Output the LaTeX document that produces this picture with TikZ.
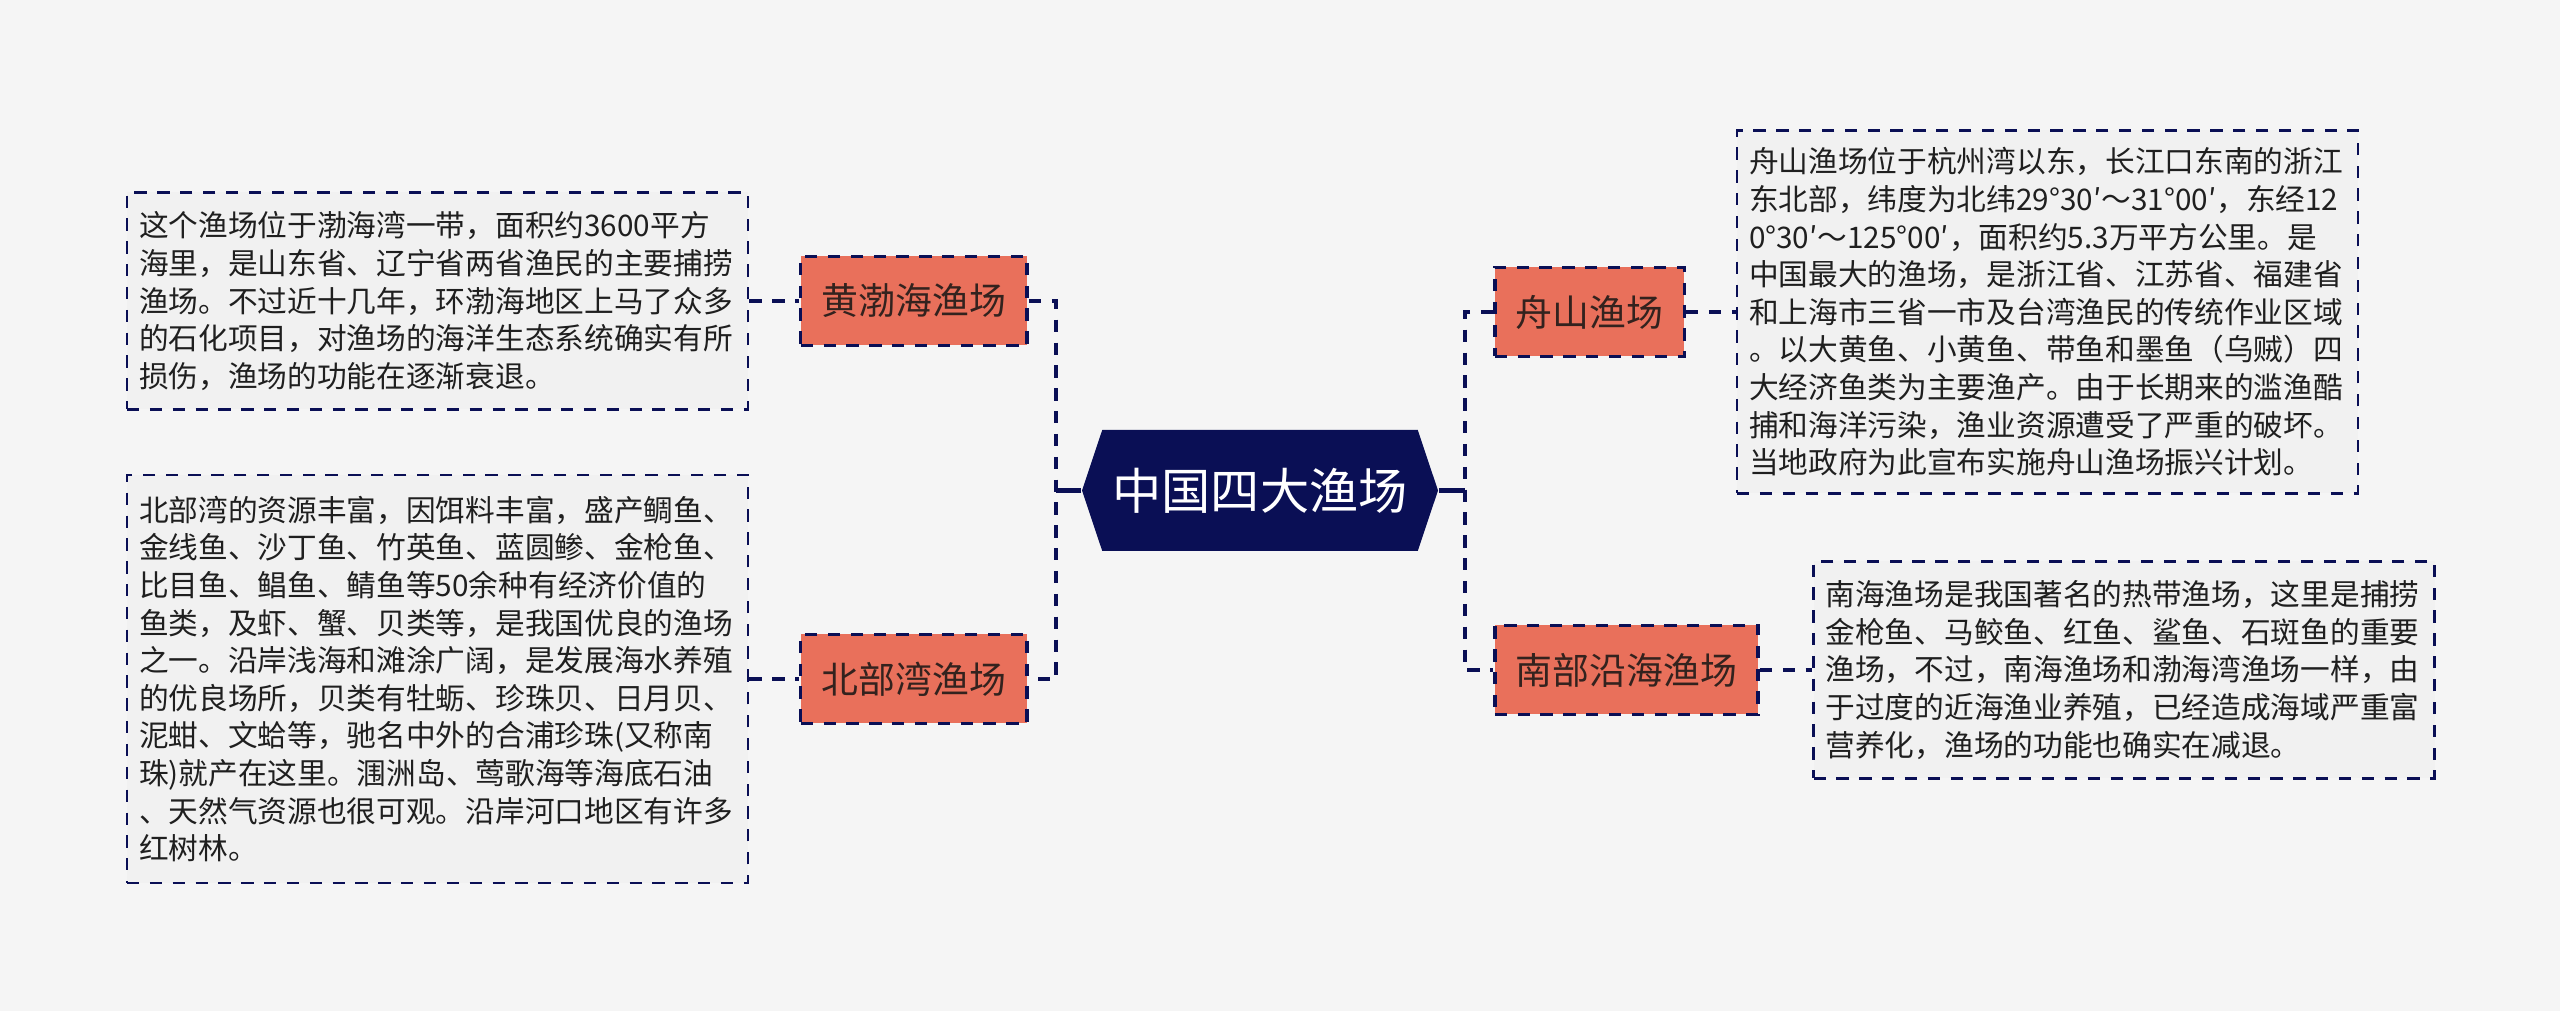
\documentclass[tikz,border=0pt]{standalone}
\usepackage{fontspec}
\newfontfamily\cjk{Noto Sans CJK SC}
\usetikzlibrary{shapes.symbols}

\definecolor{navy}{HTML}{0A0F55}
\definecolor{salmon}{HTML}{E9705B}
\definecolor{bgcol}{HTML}{F5F5F5}
\definecolor{notefill}{HTML}{F1F1F1}
\definecolor{labeltext}{HTML}{33221E}

\begin{document}
\begin{tikzpicture}[
    hub/.style={signal, signal to=west and east, signal pointer angle=143,
        fill=navy, text=white, minimum width=3.56cm, minimum height=1.21cm,
        inner sep=0pt, font=\cjk\fontsize{14}{16}\selectfont},
    field/.style={draw=navy, line width=1pt, dash pattern=on 3.5pt off 3pt,
        fill=salmon, text=labeltext, minimum height=0.89cm, inner xsep=0.21cm,
        font=\cjk\fontsize{10.5}{12}\selectfont},
    note/.style={draw=navy, line width=0.8pt, dash pattern=on 3.5pt off 3pt,
        fill=notefill, text=black!88, text width=5.97cm, inner xsep=0.12cm,
        align=left, font=\cjk\fontsize{8.45}{10.7}\selectfont},
    link/.style={navy, line width=1.3pt},
    dlink/.style={link, dash pattern=on 3.5pt off 3pt}
]
    \useasboundingbox[fill=bgcol] (0, 0) rectangle (25.6, -10.11);

    \node[hub] (hub) at (12.60, -4.905) {中国四大渔场};

    \node[field, anchor=east] (hbh) at (10.29, -3.01) {黄渤海渔场};
    \node[field, anchor=east] (bbw) at (10.29, -6.79) {北部湾渔场};
    \node[field, anchor=west] (zs)  at (14.93, -3.12) {舟山渔场};
    \node[field, anchor=west] (nb)  at (14.93, -6.70) {南部沿海渔场};

    \node[note, minimum height=2.17cm] (hbhtxt) at (4.375, -3.01) {%
        这个渔场位于渤海湾一带，面积约3600平方\\
        海里，是山东省、辽宁省两省渔民的主要捕捞\\
        渔场。不过近十几年，环渤海地区上马了众多\\
        的石化项目，对渔场的海洋生态系统确实有所\\
        损伤，渔场的功能在逐渐衰退。};
    \node[note, minimum height=4.08cm] (bbwtxt) at (4.375, -6.79) {%
        北部湾的资源丰富，因饵料丰富，盛产鲷鱼、\\
        金线鱼、沙丁鱼、竹英鱼、蓝圆鲹、金枪鱼、\\
        比目鱼、鲳鱼、鲭鱼等50余种有经济价值的\\
        鱼类，及虾、蟹、贝类等，是我国优良的渔场\\
        之一。沿岸浅海和滩涂广阔，是发展海水养殖\\
        的优良场所，贝类有牡蛎、珍珠贝、日月贝、\\
        泥蚶、文蛤等，驰名中外的合浦珍珠(又称南\\
        珠)就产在这里。涠洲岛、莺歌海等海底石油\\
        、天然气资源也很可观。沿岸河口地区有许多\\
        红树林。};
    \node[note, minimum height=3.63cm] (zstxt) at (20.475, -3.12) {%
        舟山渔场位于杭州湾以东，长江口东南的浙江\\
        东北部，纬度为北纬29°30′～31°00′，东经12\\
        0°30′～125°00′，面积约5.3万平方公里。是\\
        中国最大的渔场，是浙江省、江苏省、福建省\\
        和上海市三省一市及台湾渔民的传统作业区域\\
        。以大黄鱼、小黄鱼、带鱼和墨鱼（乌贼）四\\
        大经济鱼类为主要渔产。由于长期来的滥渔酷\\
        捕和海洋污染，渔业资源遭受了严重的破坏。\\
        当地政府为此宣布实施舟山渔场振兴计划。};
    \node[note, minimum height=2.17cm] (nbtxt) at (21.24, -6.70) {%
        南海渔场是我国著名的热带渔场，这里是捕捞\\
        金枪鱼、马鲛鱼、红鱼、鲨鱼、石斑鱼的重要\\
        渔场，不过，南海渔场和渤海湾渔场一样，由\\
        于过度的近海渔业养殖，已经造成海域严重富\\
        营养化，渔场的功能也确实在减退。};

    \coordinate (jl) at (10.56, -4.905);
    \coordinate (jr) at (14.65, -4.905);

    \draw[link] (hub.west) -- (jl);
    \draw[link] (hub.east) -- (jr);
    \draw[dlink] (hbh.east) -| (jl) |- (bbw.east);
    \draw[dlink] (zs.west) -| (jr) |- (nb.west);

    \draw[dlink] (hbhtxt.east) -- (hbh.west);
    \draw[dlink] (bbwtxt.east) -- (bbw.west);
    \draw[dlink] (zs.east) -- (zstxt.west);
    \draw[dlink] (nb.east) -- (nbtxt.west);
\end{tikzpicture}
\end{document}
